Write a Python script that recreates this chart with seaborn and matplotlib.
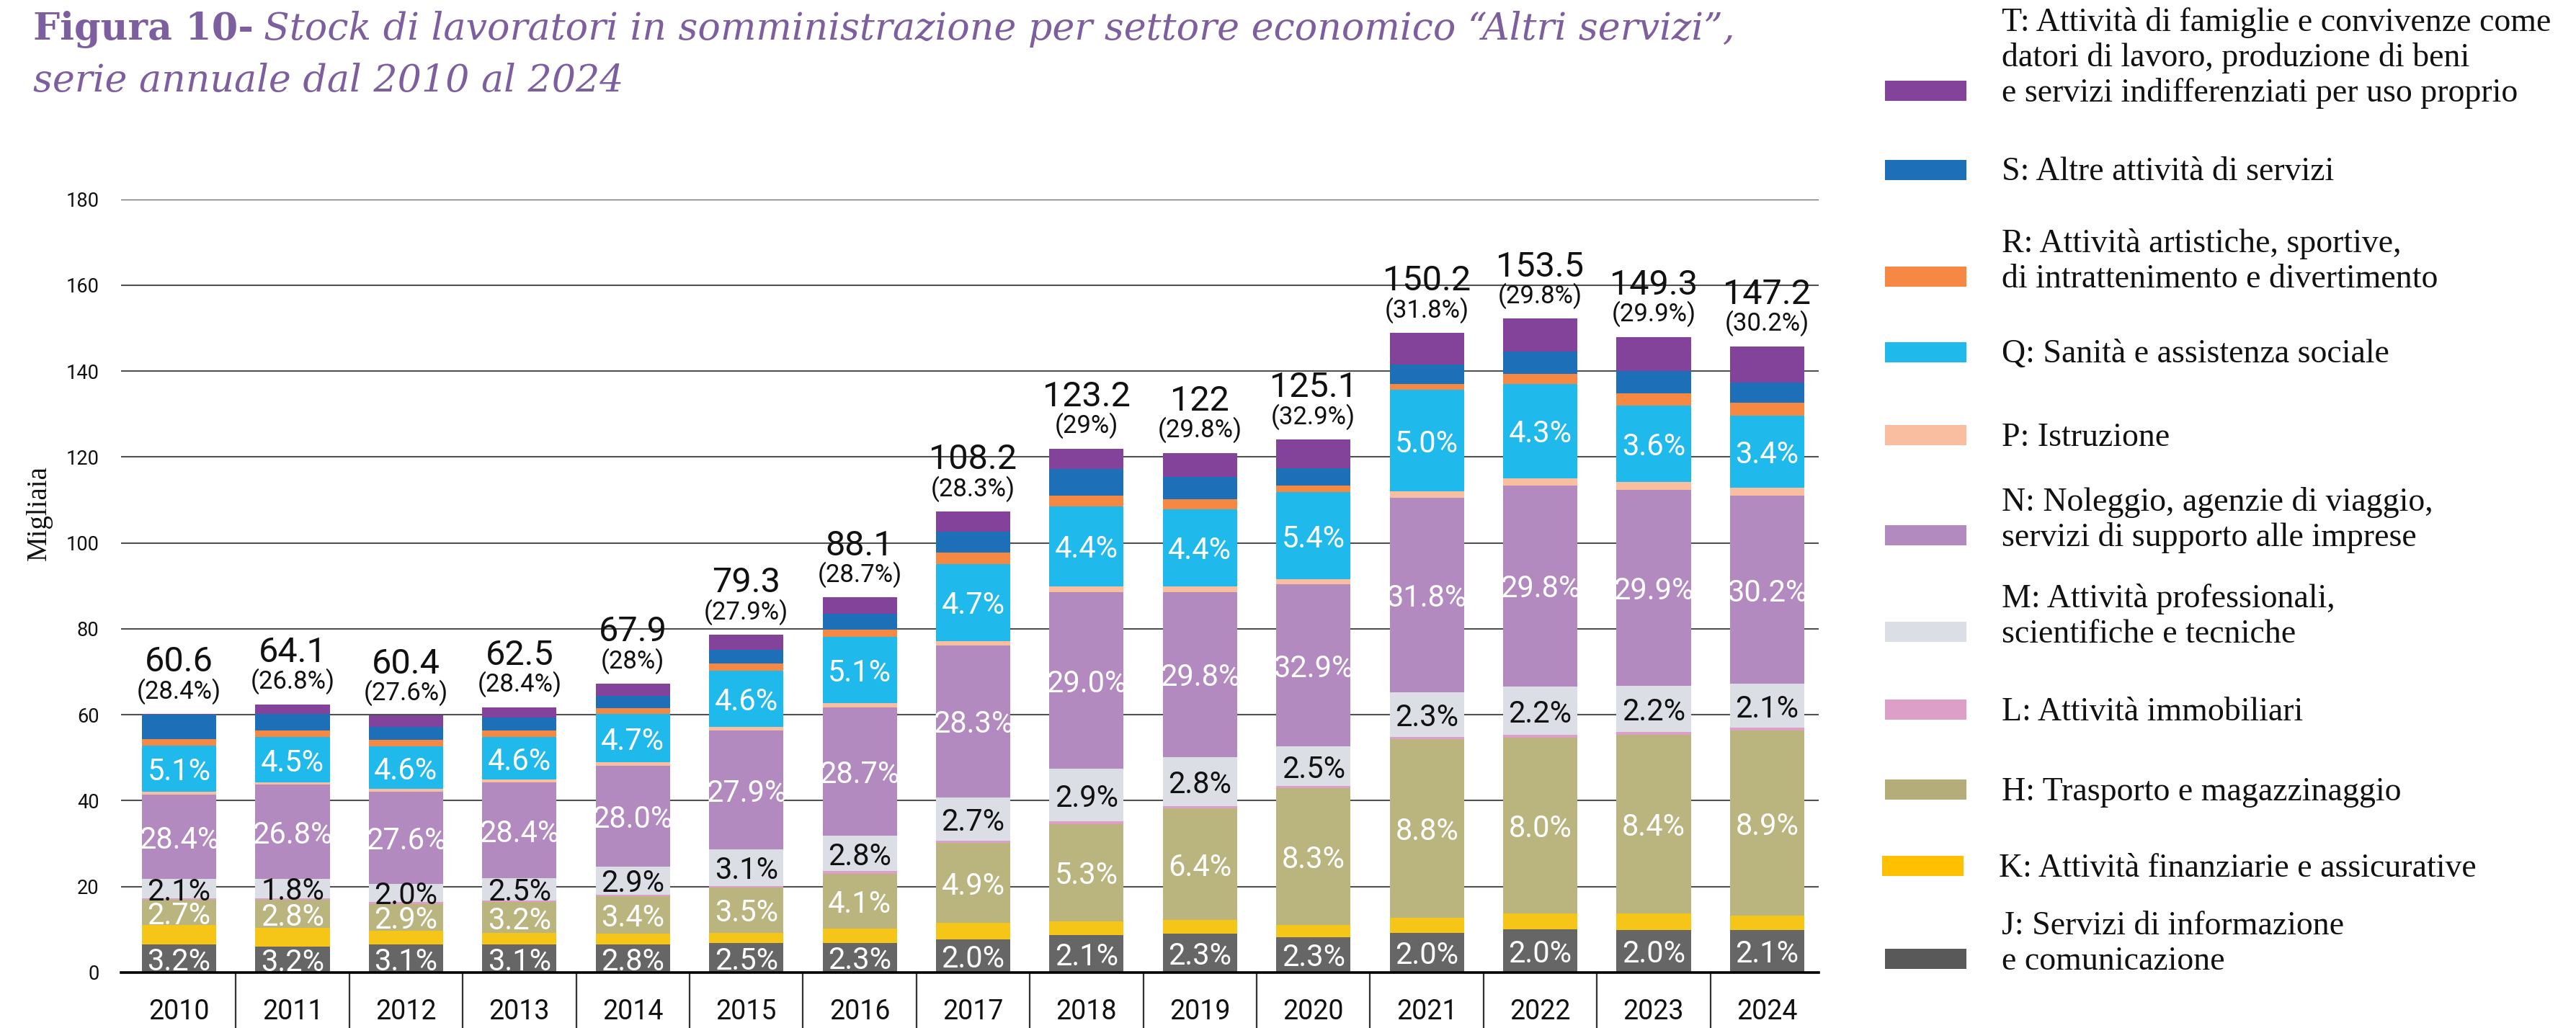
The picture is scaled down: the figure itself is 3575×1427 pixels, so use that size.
import numpy as np
import pandas as pd
import matplotlib
matplotlib.use("Agg")
import matplotlib.pyplot as plt
import seaborn as sns
from matplotlib.patches import Rectangle
from matplotlib.transforms import blended_transform_factory

# ---------------- data (migliaia) ----------------
years = ["2010", "2011", "2012", "2013", "2014", "2015", "2016", "2017",
         "2018", "2019", "2020", "2021", "2022", "2023", "2024"]

J = [6.5, 6.1, 6.5, 6.5, 6.5, 6.8, 6.9, 7.7, 8.7, 9.0, 8.3, 9.3, 10.0, 9.9, 9.9]
K = [4.5, 4.3, 3.2, 2.7, 2.5, 2.5, 3.3, 3.8, 3.2, 3.2, 2.8, 3.5, 3.7, 3.8, 3.3]
H = [5.9, 6.5, 6.3, 7.2, 8.7, 10.5, 12.8, 18.7, 22.7, 26.0, 31.8, 41.5, 41.0, 41.6, 43.1]
L = [0.3, 0.4, 0.4, 0.4, 0.4, 0.4, 0.6, 0.5, 0.6, 0.6, 0.5, 0.5, 0.6, 0.7, 0.7]
M = [4.6, 4.5, 4.3, 5.2, 6.6, 8.5, 8.2, 10.1, 12.2, 11.3, 9.2, 10.5, 11.3, 10.8, 10.2]
N = [19.6, 21.9, 21.4, 22.2, 23.4, 27.6, 29.9, 35.4, 41.2, 38.5, 37.8, 45.3, 46.8, 45.5, 43.8]
P = [0.7, 0.6, 0.7, 0.7, 0.8, 0.9, 1.0, 1.0, 1.3, 1.3, 1.1, 1.4, 1.7, 1.9, 1.8]
Q = [10.8, 10.5, 9.8, 9.9, 11.3, 13.0, 15.4, 17.9, 18.6, 18.0, 20.3, 23.6, 21.9, 17.8, 16.9]
R = [1.5, 1.5, 1.6, 1.5, 1.3, 1.8, 1.7, 2.6, 2.5, 2.3, 1.5, 1.4, 2.3, 2.8, 3.0]
S = [5.6, 3.9, 3.0, 3.0, 2.9, 3.2, 3.8, 4.9, 6.2, 5.2, 4.1, 4.5, 5.3, 5.2, 4.7]
T = [0.2, 2.2, 2.6, 2.5, 2.8, 3.4, 3.7, 4.7, 4.8, 5.6, 6.7, 7.4, 7.6, 8.0, 8.4]

# percentage labels shown inside the bars
J_pct = [3.2, 3.2, 3.1, 3.1, 2.8, 2.5, 2.3, 2.0, 2.1, 2.3, 2.3, 2.0, 2.0, 2.0, 2.1]
H_pct = [2.7, 2.8, 2.9, 3.2, 3.4, 3.5, 4.1, 4.9, 5.3, 6.4, 8.3, 8.8, 8.0, 8.4, 8.9]
M_pct = [2.1, 1.8, 2.0, 2.5, 2.9, 3.1, 2.8, 2.7, 2.9, 2.8, 2.5, 2.3, 2.2, 2.2, 2.1]
N_pct = [28.4, 26.8, 27.6, 28.4, 28.0, 27.9, 28.7, 28.3, 29.0, 29.8, 32.9, 31.8, 29.8, 29.9, 30.2]
Q_pct = [5.1, 4.5, 4.6, 4.6, 4.7, 4.6, 5.1, 4.7, 4.4, 4.4, 5.4, 5.0, 4.3, 3.6, 3.4]

totals = [60.6, 64.1, 60.4, 62.5, 67.9, 79.3, 88.1, 108.2, 123.2, 122, 125.1, 150.2, 153.5, 149.3, 147.2]
totals_pct = [28.4, 26.8, 27.6, 28.4, 28, 27.9, 28.7, 28.3, 29, 29.8, 32.9, 31.8, 29.8, 29.9, 30.2]

sector_names = ["J", "K", "H", "L", "M", "N", "P", "Q", "R", "S", "T"]
sector_values = [J, K, H, L, M, N, P, Q, R, S, T]
sector_colors = ["#666666", "#F5C518", "#BAB57F", "#DCA0C8", "#DCDEE6", "#B38ABF",
                 "#F9BDA0", "#20B9EC", "#F58842", "#1D6FB8", "#84439A"]
legend_colors = {"J": "#595959", "K": "#FFC000", "H": "#B4AD7A"}

legend_lines = {
    "T": ["T: Attività di famiglie e convivenze come",
          "datori di lavoro, produzione di beni",
          "e servizi indifferenziati per uso proprio"],
    "S": ["S: Altre attività di servizi"],
    "R": ["R: Attività artistiche, sportive,", "di intrattenimento e divertimento"],
    "Q": ["Q: Sanità e assistenza sociale"],
    "P": ["P: Istruzione"],
    "N": ["N: Noleggio, agenzie di viaggio,", "servizi di supporto alle imprese"],
    "M": ["M: Attività professionali,", "scientifiche e tecniche"],
    "L": ["L: Attività immobiliari"],
    "H": ["H: Trasporto e magazzinaggio"],
    "K": ["K: Attività finanziarie e assicurative"],
    "J": ["J: Servizi di informazione", "e comunicazione"],
}

# ---------------- figure ----------------
W, Hpx = 3575, 1427
DPI = 200
sns.set_theme(style="white")
plt.rcParams["font.family"] = ["Roboto", "DejaVu Sans"]

fig = plt.figure(figsize=(W / DPI, Hpx / DPI), dpi=DPI)
ax = fig.add_axes([168 / W, 1 - 1350 / Hpx, (2524 - 168) / W, (1350 - 276.7) / Hpx])

df = pd.DataFrame({"year": years})
cum = np.zeros(len(years))
cums = []
for vals in sector_values:
    cum = cum + np.array(vals)
    cums.append(cum.copy())

# draw cumulative bars from the tallest (top layer) down, so the stack is visible
for idx in range(len(sector_values) - 1, -1, -1):
    df["v"] = cums[idx]
    sns.barplot(data=df, x="year", y="v", color=sector_colors[idx], saturation=1,
                width=0.655, errorbar=None, linewidth=0, edgecolor="none", ax=ax, zorder=2)

ax.set_xlim(-0.512, 14.455)
ax.set_ylim(0, 180)
ax.set_yticks(np.arange(0, 181, 20))
ax.yaxis.grid(True, color="#505050", linewidth=0.75)
ax.set_axisbelow(True)
for sp in ["left", "right", "top"]:
    ax.spines[sp].set_visible(False)
ax.spines["bottom"].set_color("black")
ax.spines["bottom"].set_linewidth(1.3)
ax.spines["bottom"].set_zorder(5)
ax.set_xlabel("")
ax.set_ylabel("")
ax.tick_params(axis="y", length=0, pad=11, labelsize=9.8, labelcolor="#111111")
ax.tick_params(axis="x", length=0, pad=13, labelsize=13.5, labelcolor="#111111")

# separators between years below the axis
trans = blended_transform_factory(ax.transData, ax.transAxes)
ax.vlines(np.arange(0.5, len(years) - 1), -0.08, 0, transform=trans,
          colors="#333333", linewidth=0.8, clip_on=False)

# segment labels
idx_of = {n: i for i, n in enumerate(sector_names)}
label_specs = [("J", J_pct, "white"), ("H", H_pct, "white"), ("M", M_pct, "#111111"),
               ("N", N_pct, "white"), ("Q", Q_pct, "white")]
for name, pcts, col in label_specs:
    i = idx_of[name]
    top = cums[i]
    bottom = cums[i - 1] if i > 0 else np.zeros(len(years))
    for x, (b, t, p) in enumerate(zip(bottom, top, pcts)):
        ax.text(x, (b + t) / 2, f"{p:.1f}%", ha="center", va="center_baseline",
                fontsize=15, color=col, zorder=6)

# totals above bars
bar_tops = cums[-1]
for x, (top, tot, tp) in enumerate(zip(bar_tops, totals, totals_pct)):
    ax.text(x, top + 6.0, f"({tp:g}%)", ha="center", va="center_baseline",
            fontsize=12.5, color="#111111", zorder=6)
    ax.text(x, top + 12.9, f"{tot:g}", ha="center", va="center_baseline",
            fontsize=17.5, color="#111111", zorder=6)

# y label
fig.text(54.5 / W, 1 - 712 / Hpx, "Migliaia", rotation=90, ha="center", va="center",
         fontsize=14, family="Liberation Serif", color="#111111")

# title
purple = "#7D5E9E"
t1 = fig.text(46 / W, 1 - 55 / Hpx, "Figura 10-", fontsize=18.8, family="DejaVu Serif",
              weight="bold", color=purple, va="baseline", ha="left")
fig.canvas.draw()
bb = t1.get_window_extent()
fig.text((bb.x1 + 14) / W, 1 - 55 / Hpx,
         "Stock di lavoratori in somministrazione per settore economico \u201cAltri servizi\u201d,",
         fontsize=18.8, family="DejaVu Serif", style="italic", color=purple,
         va="baseline", ha="left")
fig.text(46 / W, 1 - 127 / Hpx, "serie annuale dal 2010 al 2024", fontsize=18.8,
         family="DejaVu Serif", style="italic", color=purple, va="baseline", ha="left")

# legend (manual)
legend_y = {"T": 126, "S": 235.5, "R": 384, "Q": 488.5, "P": 604, "N": 743,
            "M": 876.6, "L": 984.7, "H": 1096, "K": 1201.7, "J": 1331}
line_gap = 49
cap_half = 15
for name in ["T", "S", "R", "Q", "P", "N", "M", "L", "H", "K", "J"]:
    yc = legend_y[name]
    color = legend_colors.get(name, sector_colors[idx_of[name]])
    px0 = 2612 if name == "K" else 2616
    tx0 = 2774 if name == "K" else 2778
    fig.add_artist(Rectangle((px0 / W, 1 - (yc + 14) / Hpx), 113 / W, 28 / Hpx,
                             transform=fig.transFigure, facecolor=color, edgecolor="none"))
    lines = legend_lines[name]
    n = len(lines)
    for k, line in enumerate(lines):
        yb = yc + cap_half - (n - 1 - k) * line_gap
        fig.text(tx0 / W, 1 - yb / Hpx, line, fontsize=16.5, family="Liberation Serif",
                 color="#111111", va="baseline", ha="left")

fig.savefig("out.png", dpi=DPI)
